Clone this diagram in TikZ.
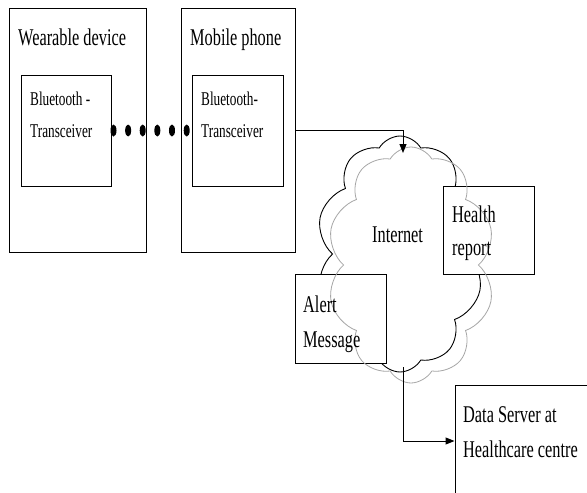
\documentclass[tikz,border=0pt]{standalone}
\usepackage{fontspec}
\setmainfont[FakeStretch=0.68]{Liberation Serif}
\usetikzlibrary{shapes.symbols,arrows.meta,calc}
\tikzset{
  box/.style={draw,line width=1pt,fill=white,rectangle,inner sep=0pt},
  lbl/.style={inner sep=0pt,anchor=base west,font=\fontsize{24}{28}\selectfont},
  slbl/.style={inner sep=0pt,anchor=base west,font=\fontsize{19.5}{23}\selectfont},
  cloudshape/.style={shape=cloud,cloud puffs=10,cloud puff arc=120,cloud ignores aspect,
    minimum width=168pt,minimum height=236pt,inner sep=0pt},
  link/.style={line width=1pt,-{Triangle[length=9pt,width=7pt]}},
  btdot/.style={fill=black,draw=none}
}
\begin{document}
\begin{tikzpicture}[x=1pt,y=-1pt]
\useasboundingbox (0,0) rectangle (587,493);
\clip (0,0) rectangle (587,493);
\fill[white] (0,0) rectangle (587,493);
% devices
\node[box,minimum width=137pt,minimum height=244pt] (wear) at (77.5,130) {};
\node[box,minimum width=90pt,minimum height=111pt] (bt1) at (66,130.5) {};
\node[box,minimum width=114pt,minimum height=244pt] (phone) at (238,130) {};
\node[box,minimum width=91pt,minimum height=111pt] (bt2) at (237.5,130.5) {};
% bluetooth link (dots)
\foreach \t [count=\i] in {0.025,0.208,0.39,0.573,0.756,0.94}
  \fill[btdot] ($(bt1.east)!\t!(bt2.west)$) ellipse[x radius=3pt,y radius=6pt];
% cloud
\node[cloudshape,draw,line width=0.9pt] (inet) at (400,254) {};
\coordinate (inetin) at ($(inet.center)+(3,-101)$);
\coordinate (inetout) at ($(inet.center)+(3,113)$);
% boxes around cloud
\node[box,minimum width=91pt,minimum height=88pt] (health) at (488.5,230) {};
\node[box,minimum width=91pt,minimum height=89pt] (alert) at (340.5,318.5) {};
\node[box,minimum width=150pt,minimum height=112pt] (server) at (530,441) {};
% grey shadow cloud
\node[cloudshape,draw=black!35,line width=0.8pt] (inetshadow) at (411,265) {};
% connectors
\draw[link] (phone.east) -| (inetin);
\draw[link] (inetout) |- (server.west);
% texts
\node[lbl] (t1) at (18,45) {Wearable device};
\node[lbl] (t2) at (190,45) {Mobile phone};
\node[slbl] (t3) at (30,105) {Bluetooth -};
\node[slbl] (t4) at (30,137) {Transceiver};
\node[slbl] (t5) at (201,105) {Bluetooth-};
\node[slbl] (t6) at (201,137) {Transceiver};
\node[lbl] (t7) at (372,242) {Internet};
\node[lbl] (t8) at (452,222) {Health};
\node[lbl] (t9) at (452,255) {report};
\node[lbl] (t10) at (303,312) {Alert};
\node[lbl] (t11) at (303,347) {Message};
\node[lbl] (t12) at (463,422) {Data Server at};
\node[lbl] (t13) at (463,457) {Healthcare centre};
\end{tikzpicture}
\end{document}
